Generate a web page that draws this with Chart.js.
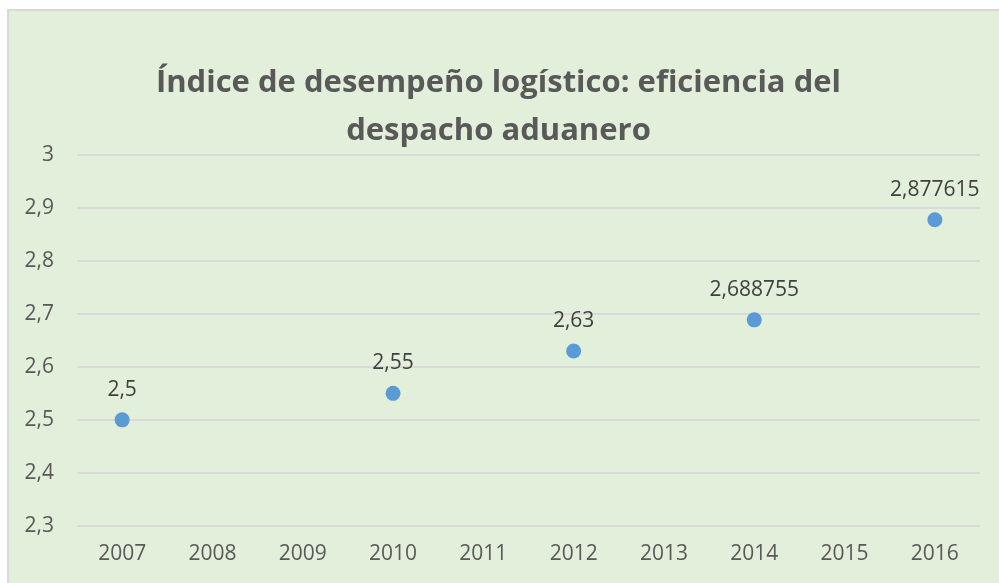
<!DOCTYPE html>
<html>
<head>
<meta charset="utf-8">
<script src="https://cdn.jsdelivr.net/npm/chart.js@4"></script>
<style>
  html, body { margin: 0; padding: 0; background: #fff; }
  #box {
    position: absolute; left: 7px; top: 9px;
    width: 990px; height: 572px;
    border-left: 2px solid #d9d9d9; border-top: 2px solid #d9d9d9;
    background: #E2EFDA;
  }
</style>
</head>
<body>
<div id="box"><canvas id="chart" width="990" height="572"></canvas></div>
<script>
  // Chart data
  const years = ['2007', '2008', '2009', '2010', '2011', '2012', '2013', '2014', '2015', '2016'];
  const values = [2.5, null, null, 2.55, null, 2.63, null, 2.688755, null, 2.877615];
  const titleLines = ['Índice de desempeño logístico: eficiencia del', 'despacho aduanero'];

  const FONT = '"Open Sans", sans-serif';

  // Draw the value above each point (Excel-style data labels)
  const valueLabels = {
    id: 'valueLabels',
    afterDatasetsDraw(chart) {
      const ctx = chart.ctx;
      const meta = chart.getDatasetMeta(0);
      ctx.save();
      ctx.font = '21px ' + FONT;
      ctx.fillStyle = '#404040';
      ctx.textAlign = 'center';
      ctx.textBaseline = 'middle';
      meta.data.forEach((pt, i) => {
        const v = values[i];
        if (v === null) return;
        ctx.fillText(String(v).replace('.', ','), pt.x, pt.y - 30);
      });
      ctx.restore();
    }
  };

  new Chart(document.getElementById('chart'), {
    type: 'line',
    data: {
      labels: years,
      datasets: [{
        data: values,
        showLine: false,
        pointRadius: 7.5,
        pointHoverRadius: 7.5,
        pointBackgroundColor: '#5B9BD5',
        pointBorderWidth: 0,
        borderColor: '#5B9BD5'
      }]
    },
    options: {
      responsive: false,
      animation: false,
      layout: { padding: { left: 8, right: 19, top: 0, bottom: 0 } },
      plugins: {
        legend: { display: false },
        tooltip: { enabled: false },
        title: {
          display: true,
          text: titleLines,
          color: '#595959',
          font: { family: FONT, size: 31, weight: 'bold', lineHeight: 1.548 },
          padding: { top: 48, bottom: 0 }
        }
      },
      scales: {
        x: {
          offset: true,
          grid: { display: false, drawTicks: false },
          border: { display: false },
          ticks: { color: '#595959', font: { family: FONT, size: 21 }, padding: 16, maxRotation: 0 }
        },
        y: {
          min: 2.3,
          max: 3,
          afterFit(scale) { scale.width = 60; },
          grid: { color: '#d9d9d9', lineWidth: 2, drawTicks: false },
          border: { display: false },
          ticks: {
            stepSize: 0.1,
            color: '#595959',
            font: { family: FONT, size: 21 },
            padding: 23,
            callback: v => String(Math.round(v * 10) / 10).replace('.', ',')
          }
        }
      }
    },
    plugins: [valueLabels]
  });
</script>
</body>
</html>
